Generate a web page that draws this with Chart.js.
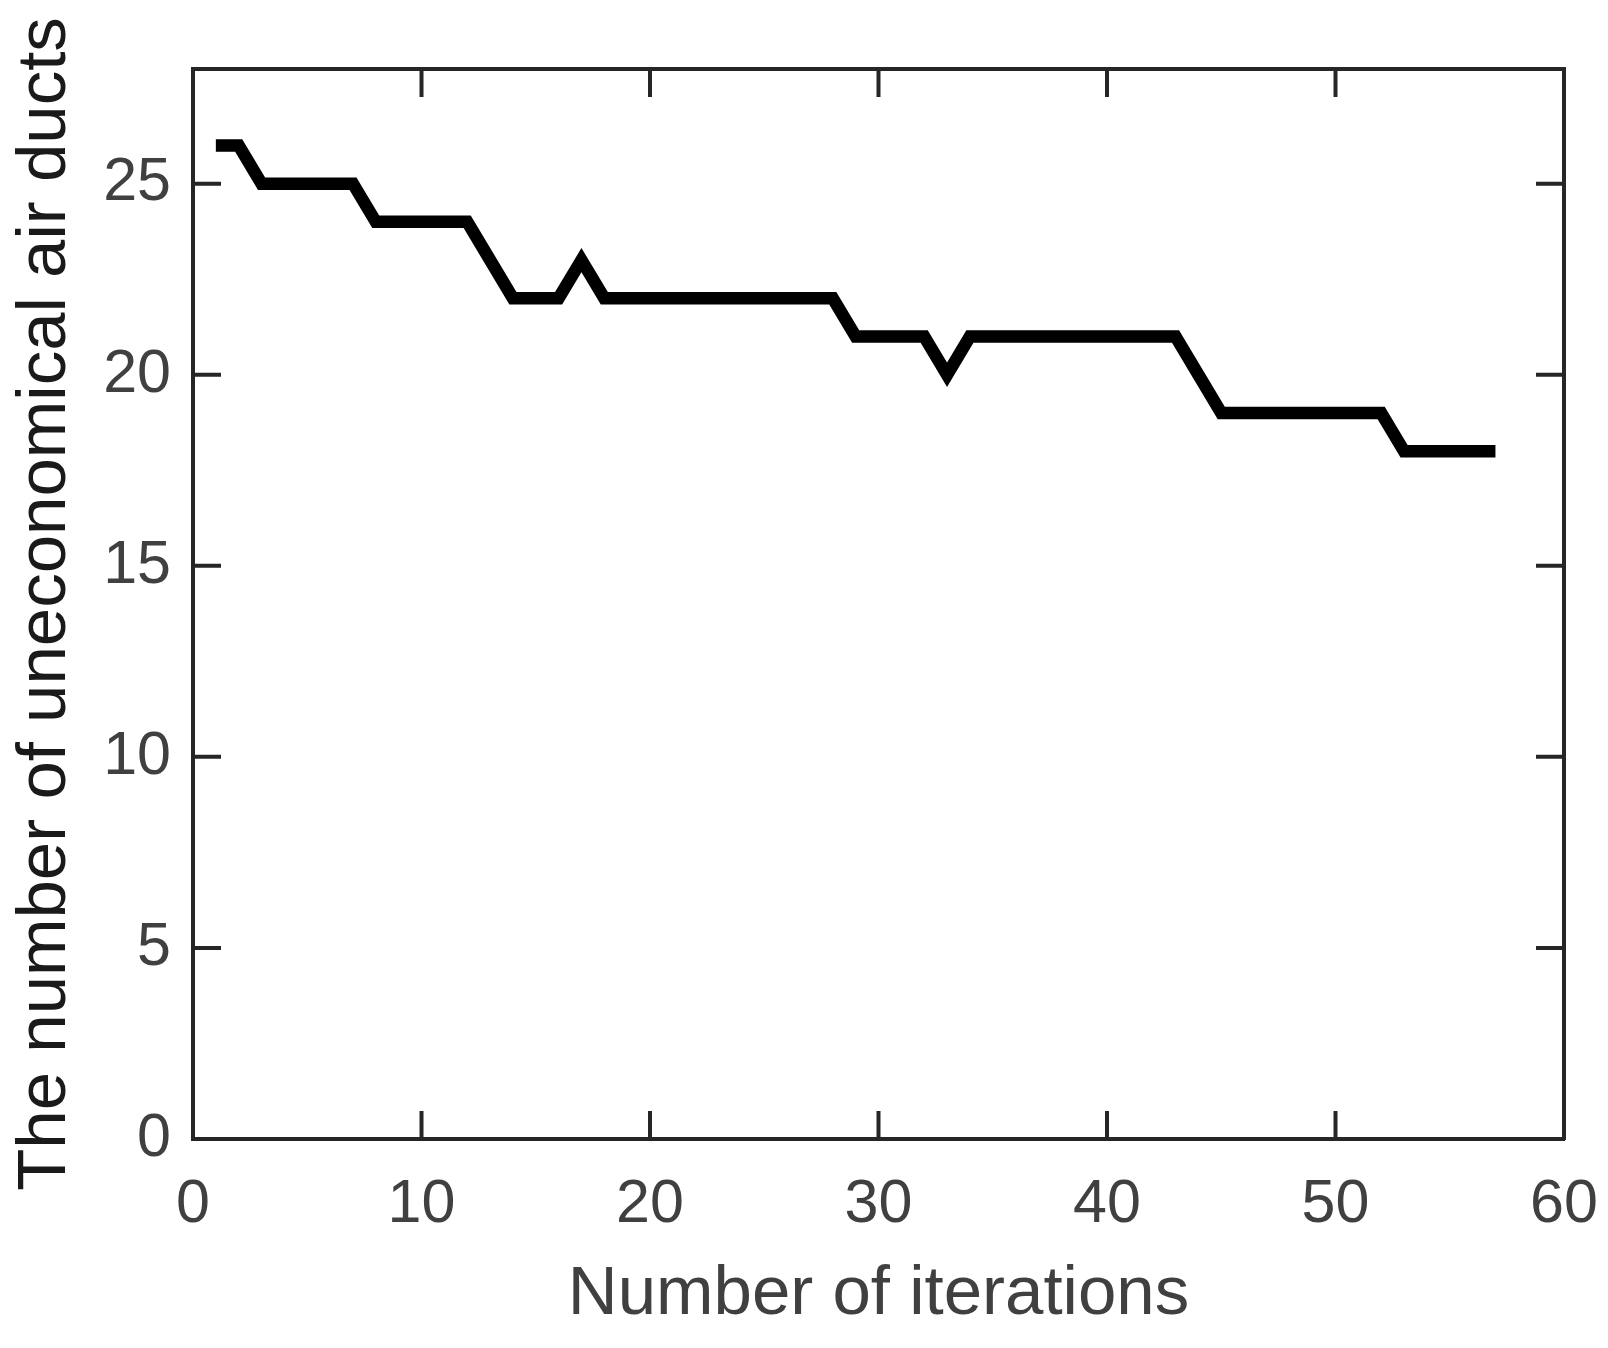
<!DOCTYPE html>
<html>
<head>
<meta charset="utf-8">
<title>Uneconomical air ducts vs iterations</title>
<script src="https://cdn.jsdelivr.net/npm/chart.js@4.4.1/dist/chart.umd.min.js"></script>
<style>
  html, body { margin: 0; padding: 0; background: #fff; }
  #wrap { width: 1608px; height: 1348px; }
</style>
</head>
<body>
<div id="wrap"><canvas id="ductChart" width="1608" height="1348"></canvas></div>
<script>
// ---------- Data ----------
const iterations = [
  1, 2, 3, 4, 5, 6, 7, 8, 9, 10,
  11, 12, 13, 14, 15, 16, 17, 18, 19, 20,
  21, 22, 23, 24, 25, 26, 27, 28, 29, 30,
  31, 32, 33, 34, 35, 36, 37, 38, 39, 40,
  41, 42, 43, 44, 45, 46, 47, 48, 49, 50,
  51, 52, 53, 54, 55, 56, 57
];
const uneconomicalDucts = [
  26, 26, 25, 25, 25, 25, 25, 24, 24, 24,
  24, 24, 23, 22, 22, 22, 23, 22, 22, 22,
  22, 22, 22, 22, 22, 22, 22, 22, 21, 21,
  21, 21, 20, 21, 21, 21, 21, 21, 21, 21,
  21, 21, 21, 20, 19, 19, 19, 19, 19, 19,
  19, 19, 18, 18, 18, 18, 18
];
const xTicks = [0, 10, 20, 30, 40, 50, 60];
const yTicks = [0, 5, 10, 15, 20, 25];

// ---------- Style ----------
const AXIS_COLOR = '#262626';
const LABEL_COLOR = '#404040';
const FONT = "'Liberation Sans', Arial, Helvetica, sans-serif";
const TICK_LEN = 28;
const AXIS_W = 4;

// inward ticks on all four sides of the box
const inwardTicks = {
  id: 'inwardTicks',
  afterDatasetsDraw(chart) {
    const { ctx, chartArea: a, scales } = chart;
    ctx.save();
    ctx.strokeStyle = AXIS_COLOR;
    ctx.lineWidth = AXIS_W;
    ctx.beginPath();
    xTicks.forEach(v => {
      const px = scales.x.getPixelForValue(v);
      ctx.moveTo(px, a.bottom); ctx.lineTo(px, a.bottom - TICK_LEN);
      ctx.moveTo(px, a.top); ctx.lineTo(px, a.top + TICK_LEN);
    });
    yTicks.forEach(v => {
      const py = scales.y.getPixelForValue(v);
      ctx.moveTo(a.left, py); ctx.lineTo(a.left + TICK_LEN, py);
      ctx.moveTo(a.right, py); ctx.lineTo(a.right - TICK_LEN, py);
    });
    ctx.stroke();
    ctx.restore();
  }
};

const setTicks = list => scale => { scale.ticks = list.map(v => ({ value: v })); };
const noSidePad = s => { s.paddingLeft = 0; s.paddingRight = 0; s.paddingTop = 0; s.paddingBottom = 0; };

const ctx = document.getElementById('ductChart').getContext('2d');
new Chart(ctx, {
  type: 'line',
  data: {
    datasets: [{
      data: iterations.map((x, i) => ({ x, y: uneconomicalDucts[i] })),
      borderColor: '#000',
      borderWidth: 12.5,
      pointRadius: 0,
      tension: 0,
      fill: false
    }]
  },
  options: {
    responsive: false,
    animation: false,
    events: [],
    layout: { padding: 0 },
    plugins: { legend: { display: false }, tooltip: { enabled: false } },
    scales: {
      x: {
        type: 'linear', position: 'bottom', min: 0, max: 60,
        afterBuildTicks: setTicks(xTicks),
        afterFit: s => { s.height = 209; noSidePad(s); },
        grid: { display: false, drawTicks: false },
        border: { display: true, color: AXIS_COLOR, width: AXIS_W },
        ticks: { padding: 30, color: LABEL_COLOR, font: { family: FONT, size: 61 }, maxRotation: 0 },
        title: {
          display: true, text: 'Number of iterations', color: LABEL_COLOR,
          font: { family: FONT, size: 69 }, padding: { top: 0, bottom: 12 }
        }
      },
      x2: {
        type: 'linear', position: 'top', min: 0, max: 60,
        afterFit: s => { s.height = 69; noSidePad(s); },
        grid: { display: false, drawTicks: false },
        border: { display: true, color: AXIS_COLOR, width: AXIS_W },
        ticks: { display: false }
      },
      y: {
        type: 'linear', position: 'left', min: 0, max: 28,
        afterBuildTicks: setTicks(yTicks),
        afterFit: s => { s.width = 193; noSidePad(s); },
        grid: { display: false, drawTicks: false },
        border: { display: true, color: AXIS_COLOR, width: AXIS_W },
        ticks: { padding: 22, color: LABEL_COLOR, font: { family: FONT, size: 61 } },
        title: {
          display: true, text: 'The number of uneconomical air ducts', color: '#1a1a1a',
          font: { family: FONT, size: 69 }, padding: { top: 5, bottom: 0 }
        }
      },
      y2: {
        type: 'linear', position: 'right', min: 0, max: 28,
        afterFit: s => { s.width = 44; noSidePad(s); },
        grid: { display: false, drawTicks: false },
        border: { display: true, color: AXIS_COLOR, width: AXIS_W },
        ticks: { display: false }
      }
    }
  },
  plugins: [inwardTicks]
});
</script>
</body>
</html>
